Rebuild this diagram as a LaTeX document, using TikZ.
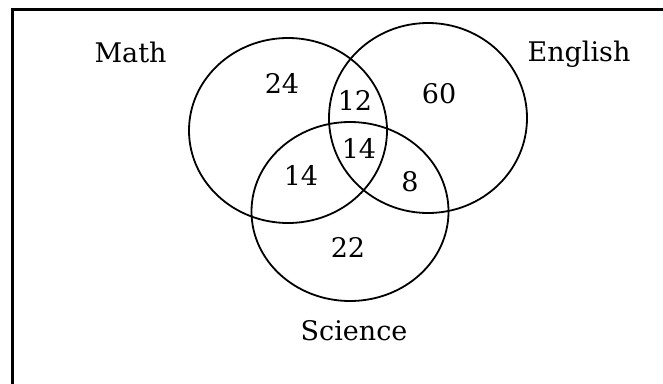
\documentclass[tikz,border=0pt]{standalone}
\usepackage{fontspec}
\setmainfont{DejaVu Serif}
\usetikzlibrary{shapes.geometric}
\begin{document}
\begin{tikzpicture}[x=1pt,y=-1pt,
  setring/.style={draw,ellipse,line width=1.8pt,inner sep=0pt},
  lbl/.style={anchor=base,inner sep=0pt,font=\fontsize{27}{28}\selectfont}]
\useasboundingbox (0,0) rectangle (663,383);
\begin{scope}
\clip (0,0) rectangle (663,383);
\draw[line width=3pt] (12,400) -- (12,9) -- (680,9);
\end{scope}
\node[setring,minimum width=198pt,minimum height=185pt] (math) at (288,130.5) {};
\node[setring,minimum width=198pt,minimum height=190pt] (english) at (428,118) {};
\node[setring,minimum width=197pt,minimum height=179pt] (science) at (350,211.5) {};
\node[lbl] (lmath) at (130.5,62.5) {Math};
\node[lbl] (lenglish) at (579,61) {English};
\node[lbl] (lscience) at (354,340) {Science};
\node[lbl] (n24) at (282,93) {24};
\node[lbl] (n12) at (355,110) {12};
\node[lbl] (n60) at (439,103) {60};
\node[lbl] (n14c) at (359,158) {14};
\node[lbl] (n14l) at (301,185) {14};
\node[lbl] (n8) at (410,191) {8};
\node[lbl] (n22) at (348,257) {22};
\end{tikzpicture}
\end{document}
